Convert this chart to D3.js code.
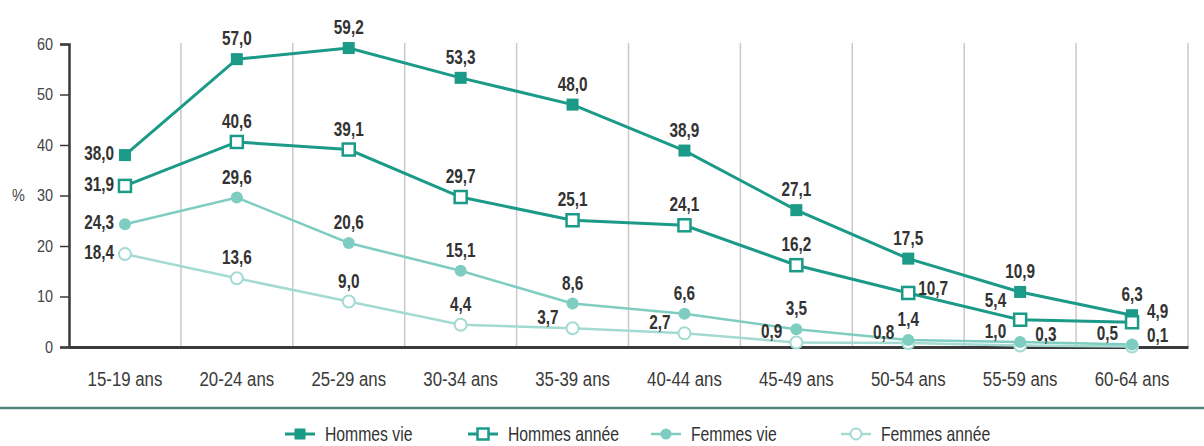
<!DOCTYPE html>
<html>
<head>
<meta charset="utf-8">
<script src="https://cdn.jsdelivr.net/npm/d3@7"></script>
<style>
  body { margin: 0; background: #fff; }
  svg { display: block; }
</style>
</head>
<body>
<script>
const categories = ["15-19 ans", "20-24 ans", "25-29 ans", "30-34 ans", "35-39 ans",
    "40-44 ans", "45-49 ans", "50-54 ans", "55-59 ans", "60-64 ans"];
const hommesVie   = [38.0, 57.0, 59.2, 53.3, 48.0, 38.9, 27.1, 17.5, 10.9, 6.3];
const hommesAnnee = [31.9, 40.6, 39.1, 29.7, 25.1, 24.1, 16.2, 10.7, 5.4, 4.9];
const femmesVie   = [24.3, 29.6, 20.6, 15.1, 8.6, 6.6, 3.5, 1.4, 1.0, 0.5];
const femmesAnnee = [18.4, 13.6, 9.0, 4.4, 3.7, 2.7, 0.9, 0.8, 0.3, 0.1];
const yTicks = [0, 10, 20, 30, 40, 50, 60];
const seriesNames = ["Hommes vie", "Hommes année", "Femmes vie", "Femmes année"];

// where each value label sits around its point
const placeHV = ["l", "t", "t", "t", "t", "t", "t", "t", "t", "t"];
const placeHA = ["l", "t", "t", "t", "t", "t", "t", "r", "ul", "tr"];
const placeFV = ["l", "t", "t", "t", "t", "t", "t", "t", "tl", "tl"];
const placeFA = ["l", "t", "t", "t", "tl", "tl", "tl", "tl", "tr", "tr"];

const W = 1204, H = 446;
const FONT = "'Liberation Sans', Arial, sans-serif";
const TXT = "#333";

const series = [
    {name: seriesNames[3], values: femmesAnnee, color: "#a3dad2", shape: "circle", filled: false, lw: 2.5, place: placeFA},
    {name: seriesNames[2], values: femmesVie,   color: "#7fcdc1", shape: "circle", filled: true,  lw: 2.5, place: placeFV},
    {name: seriesNames[0], values: hommesVie,   color: "#1b9a88", shape: "square", filled: true,  lw: 3,   place: placeHV},
    {name: seriesNames[1], values: hommesAnnee, color: "#1b9a88", shape: "square", filled: false, lw: 3,   place: placeHA}
];

const svg = d3.select("body").append("svg")
    .attr("width", W)
    .attr("height", H);

const x = d3.scaleBand()
    .domain(categories)
    .range([69, 1188]);

const y = d3.scaleLinear()
    .domain([0, 60])
    .range([347, 44]);

const cx = d => x(d) + x.bandwidth() / 2;

// vertical separators
svg.append("g")
    .selectAll("line")
    .data(categories)
    .enter()
    .append("line")
    .attr("x1", d => x(d) + x.bandwidth())
    .attr("x2", d => x(d) + x.bandwidth())
    .attr("y1", y(60) - 1)
    .attr("y2", y(0))
    .attr("stroke", "#c9c9c9")
    .attr("stroke-width", 1.5);

// y axis
const yAxis = svg.append("g")
    .attr("transform", "translate(69,0)")
    .call(d3.axisLeft(y).tickValues(yTicks).tickSize(9).tickPadding(7).tickFormat(d3.format("")));
yAxis.select(".domain").attr("stroke", "#3a3a3a").attr("stroke-width", 2.5);
yAxis.selectAll(".tick line").attr("stroke", "#3a3a3a").attr("stroke-width", 1.5);
yAxis.selectAll(".tick text")
    .attr("x", 0)
    .attr("transform", "translate(-16,0) scale(0.85,1)")
    .attr("fill", "#444")
    .style("font-family", FONT)
    .style("font-size", "17px");

svg.append("text")
    .attr("transform", "translate(12," + y(30) + ") scale(0.85,1)")
    .attr("dy", "0.32em")
    .attr("fill", "#444")
    .style("font-family", FONT)
    .style("font-size", "17px")
    .text("%");

// x axis
const xAxis = svg.append("g")
    .attr("transform", "translate(0," + y(0) + ")")
    .call(d3.axisBottom(x).tickSize(0).tickPadding(24));
xAxis.select(".domain").attr("stroke", "#3a3a3a").attr("stroke-width", 3);
xAxis.selectAll(".tick text")
    .attr("transform", "scale(0.8,1)")
    .attr("fill", "#3a3a3a")
    .style("font-family", FONT)
    .style("font-size", "21px");

// lines
const line = d3.line()
    .x((d, i) => cx(categories[i]))
    .y(d => y(d));

svg.append("g")
    .selectAll("path")
    .data(series)
    .enter()
    .append("path")
    .attr("d", s => line(s.values))
    .attr("fill", "none")
    .attr("stroke", s => s.color)
    .attr("stroke-width", s => s.lw);

// markers
function drawMarker(g, s, px, py, size) {
    if (s.shape === "square") {
        g.append("rect")
            .attr("x", px - size / 2)
            .attr("y", py - size / 2)
            .attr("width", size)
            .attr("height", size)
            .attr("fill", s.filled ? s.color : "#fff")
            .attr("stroke", s.color)
            .attr("stroke-width", s.filled ? 0 : 2.5);
    } else {
        g.append("circle")
            .attr("cx", px)
            .attr("cy", py)
            .attr("r", size / 2)
            .attr("fill", s.filled ? s.color : "#fff")
            .attr("stroke", s.color)
            .attr("stroke-width", s.filled ? 0 : 2);
    }
}

const markers = svg.append("g");
series.forEach(s => {
    s.values.forEach((v, i) => {
        drawMarker(markers, s, cx(categories[i]), y(v), 12);
    });
});

// value labels
const fmt = v => d3.format(".1f")(v).replace(".", ",");
const offsets = {
    t:  {dx: 0,   dy: -14, anchor: "middle"},
    l:  {dx: -11, dy: 5,   anchor: "end"},
    r:  {dx: 10,  dy: 2,   anchor: "start"},
    ul: {dx: -14, dy: -13, anchor: "end"},
    tl: {dx: -14, dy: -4,  anchor: "end"},
    tr: {dx: 15,  dy: -4,  anchor: "start"}
};

const labels = svg.append("g");
series.forEach(s => {
    s.values.forEach((v, i) => {
        const o = offsets[s.place[i]];
        labels.append("text")
            .attr("transform", "translate(" + (cx(categories[i]) + o.dx) + "," + (y(v) + o.dy) + ") scale(0.73,1)")
            .attr("text-anchor", o.anchor)
            .attr("fill", TXT)
            .style("font-family", FONT)
            .style("font-size", "21px")
            .style("font-weight", "bold")
            .text(fmt(v));
    });
});

// separator above legend
svg.append("line")
    .attr("x1", 0)
    .attr("x2", W)
    .attr("y1", 408)
    .attr("y2", 408)
    .attr("stroke", "#557f7b")
    .attr("stroke-width", 2.5);

// legend
const legendX = [300, 483, 666, 856];
const legendOrder = [series[2], series[3], series[1], series[0]];
const legend = svg.append("g");
legendOrder.forEach((s, i) => {
    const lx = legendX[i], ly = 434;
    legend.append("line")
        .attr("x1", lx - 15)
        .attr("x2", lx + 15)
        .attr("y1", ly)
        .attr("y2", ly)
        .attr("stroke", s.color)
        .attr("stroke-width", s.lw);
    drawMarker(legend, s, lx, ly, 11);
    legend.append("text")
        .attr("transform", "translate(" + (lx + 25) + "," + (ly + 7) + ") scale(0.75,1)")
        .attr("fill", TXT)
        .style("font-family", FONT)
        .style("font-size", "21px")
        .text(s.name);
});
</script>
</body>
</html>
